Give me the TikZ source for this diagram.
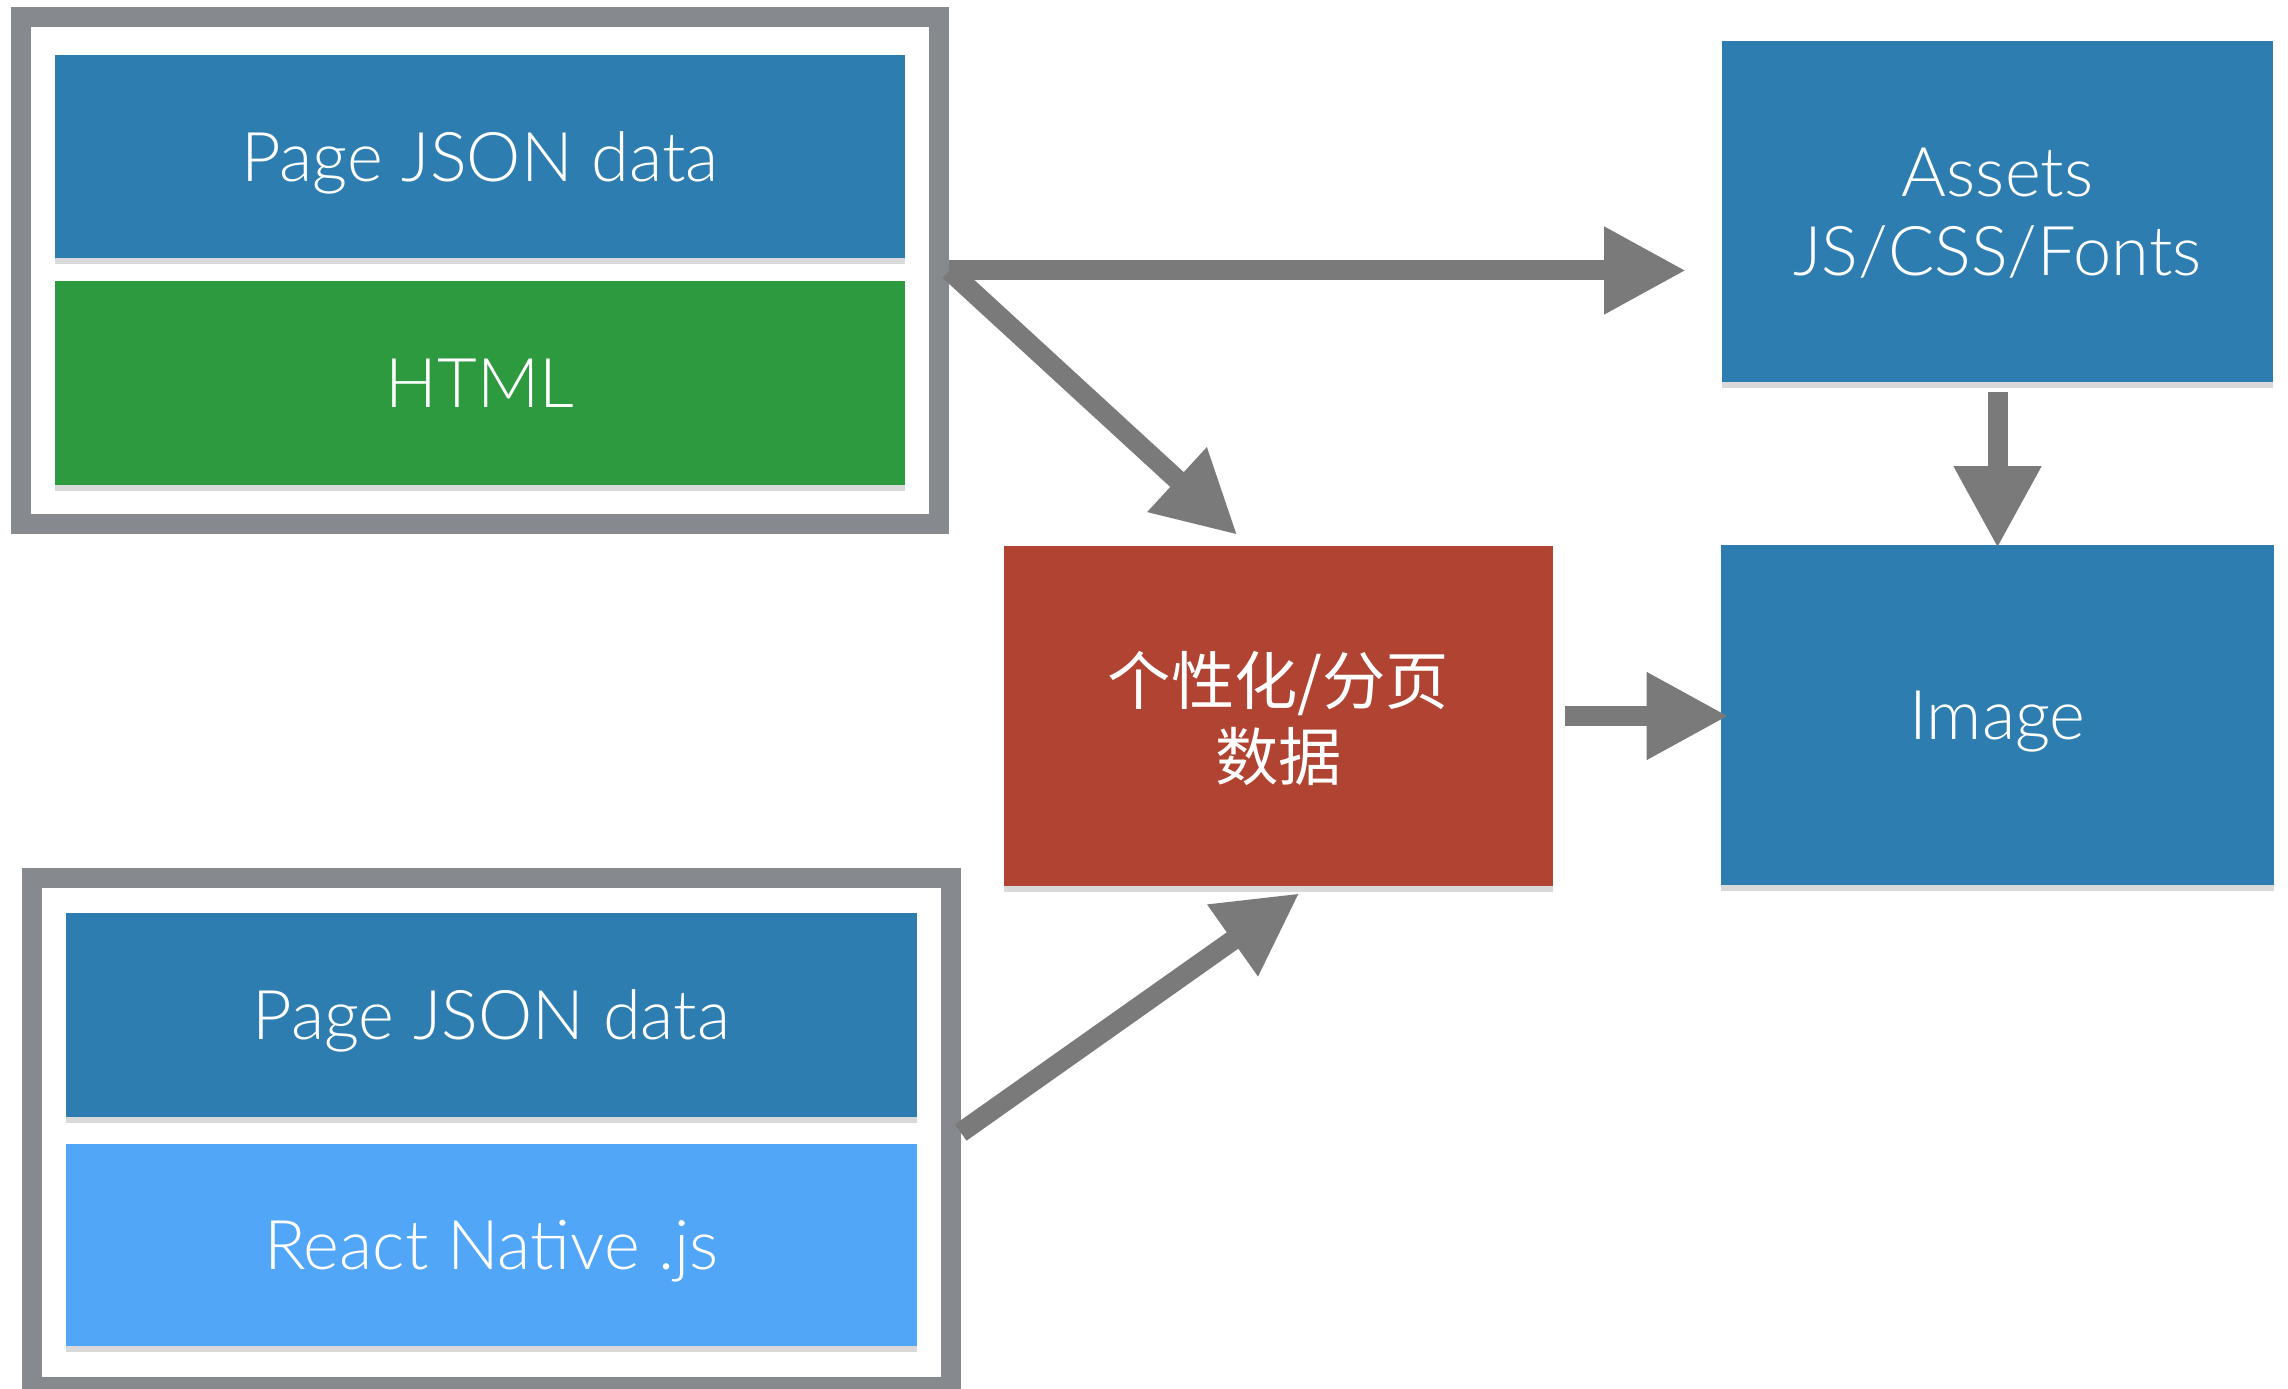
\documentclass[tikz,border=0pt]{standalone}
\usepackage{fontspec}
\setmainfont{Lato}[UprightFont=* Light]
\newfontfamily\cjk{Noto Sans CJK SC}
\usetikzlibrary{arrows.meta,shadows}
\definecolor{cardblue}{HTML}{2E7DB0}
\definecolor{cardgreen}{HTML}{2E9A40}
\definecolor{cardred}{HTML}{B04332}
\definecolor{cardsky}{HTML}{52A6F8}
\definecolor{framegray}{HTML}{86898D}
\definecolor{flowgray}{HTML}{7A7A7A}

\begin{document}
\begin{tikzpicture}
        [x=0.01cm,y=-0.01cm,
         every node/.style={inner sep=0,text=white,align=center,text depth=0pt,font=\fontsize{19.5}{22.5}\selectfont},
         card/.style={draw=none,drop shadow={shadow xshift=0cm,shadow yshift=-0.06cm,opacity=0.3}},
         frame/.style={draw=framegray,line width=0.2cm},
         flow/.style={draw=flowgray,line width=0.2cm,-{Triangle[length=0.82cm,width=0.82cm]}}]

        \useasboundingbox (0,0) rectangle (2288,1389);

        \node[frame,minimum width=9.18cm,minimum height=5.07cm] (1) at (480,270.5) {};
        \node[card,fill=cardblue,minimum width=8.5cm,minimum height=2.03cm] (2) at (480,156.5) {Page JSON data};
        \node[card,fill=cardgreen,minimum width=8.5cm,minimum height=2.04cm] (3) at (480,383) {HTML};

        \node[frame,minimum width=9.18cm,minimum height=5.08cm] (4) at (491.5,1132.5) {};
        \node[card,fill=cardblue,minimum width=8.5cm,minimum height=2.04cm] (5) at (491.5,1015) {Page JSON data};
        \node[card,fill=cardsky,minimum width=8.5cm,minimum height=2.02cm] (6) at (491.5,1245) {React Native .js};

        \node[card,fill=cardred,minimum width=5.49cm,minimum height=3.4cm,font=\fontsize{18}{21.6}\selectfont] (7) at (1278.5,716) {\cjk 个性化/分页\\\cjk 数据};
        \node[card,fill=cardblue,minimum width=5.51cm,minimum height=3.41cm] (8) at (1997.5,211.5) {Assets\\JS/CSS/Fonts};
        \node[card,fill=cardblue,minimum width=5.52cm,minimum height=3.4cm] (9) at (1997.5,715) {Image};

        \draw[flow,shorten >=0.35cm] (1.east) -- (1.east -| 8.west);
        \draw[flow,shorten >=0.15cm] (1.east) -- ([xshift=-0.3cm]7.north);
        \draw[flow,shorten >=0.11cm] (4.east) -- ([xshift=0.3cm]7.south);
        \draw[flow,shorten <=0.11cm,shorten >=-0.08cm] (7.east) -- (7.east -| 9.west);
        \draw[flow,shorten <=0.09cm,shorten >=-0.04cm] (8.south) -- (9.north);
      \end{tikzpicture}
\end{document}
